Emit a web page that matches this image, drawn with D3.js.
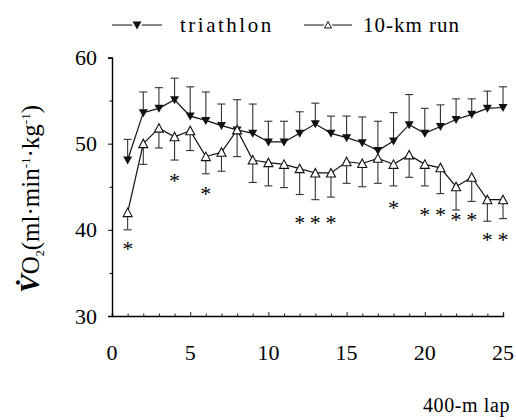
<!DOCTYPE html>
<html>
<head>
<meta charset="utf-8">
<script src="https://cdn.jsdelivr.net/npm/d3@7"></script>
</head>
<body style="margin:0">
<div id="chart"></div>
<script>
// 400-m laps
const laps = [1, 2, 3, 4, 5, 6, 7, 8, 9, 10, 11, 12, 13, 14, 15, 16, 17, 18, 19, 20, 21, 22, 23, 24, 25];

// triathlon: mean and top of SD bar
const triMean  = [48.1, 53.6, 54.1, 55.1, 53.2, 52.7, 52.1, 51.6, 51.2, 50.2, 50.2, 51.2, 52.3, 51.2, 50.7, 50.1, 49.2, 50.3, 52.2, 51.2, 52.0, 52.8, 53.4, 54.1, 54.2];
const triUpper = [50.5, 56.0, 56.5, 57.6, 56.6, 56.0, 54.6, 55.1, 54.6, 52.6, 52.6, 53.7, 54.7, 53.2, 53.2, 53.1, 52.6, 53.6, 55.7, 54.1, 54.5, 55.2, 55.2, 56.1, 56.6];

// 10-km run: mean and bottom of SD bar
const runMean  = [42.0, 50.0, 51.8, 50.8, 51.5, 48.5, 49.0, 51.6, 48.1, 47.8, 47.6, 47.1, 46.6, 46.6, 47.9, 47.7, 48.3, 47.6, 48.7, 47.6, 47.2, 45.0, 46.1, 43.5, 43.5];
const runLower = [40.0, 47.6, 49.5, 48.1, 49.2, 46.5, 46.8, 48.5, 45.5, 45.1, 44.9, 44.1, 43.5, 43.8, 45.4, 45.0, 45.4, 45.1, 46.1, 45.1, 44.2, 42.3, 43.3, 41.0, 41.3];

// significance markers (*)
const sigLaps = [1, 4, 6, 12, 13, 14, 18, 20, 21, 22, 23, 24, 25];
const sigY    = [38.4, 46.3, 44.7, 41.4, 41.4, 41.4, 43.1, 42.3, 42.3, 41.7, 41.7, 39.4, 39.4];

const xTicks = [0, 5, 10, 15, 20, 25];
const yTicks = [30, 40, 50, 60];

const W = 516, H = 420;
const margin = { left: 112, right: 13, top: 57.5, bottom: 104 };
const FONT = 'Liberation Serif';

const svg = d3.select('#chart').append('svg')
    .attr('width', W)
    .attr('height', H);

const x = d3.scaleLinear().domain([0, 25]).range([margin.left, W - margin.right]);
const y = d3.scaleLinear().domain([30, 60]).range([H - margin.bottom, margin.top]);

// axes
const xAxis = svg.append('g')
    .attr('transform', `translate(0,${y(30)})`)
    .call(d3.axisBottom(x).tickValues(d3.range(0, 26)).tickSize(-3).tickFormat(''));
xAxis.selectAll('.tick line').attr('y2', d => d % 5 === 0 ? -4 : -2.5);
xAxis.select('.domain').attr('stroke-width', 1.4);
xAxis.selectAll('line').attr('stroke', '#222');

const yAxis = svg.append('g')
    .attr('transform', `translate(${x(0)},0)`)
    .call(d3.axisLeft(y).tickValues(d3.range(30, 61, 5)).tickSize(4).tickFormat(''));
yAxis.selectAll('.tick line').attr('x2', d => d % 10 === 0 ? -4 : -2.5);
yAxis.select('.domain').attr('stroke-width', 1.4);

// tick labels
svg.selectAll('.xlab')
    .data(xTicks)
    .enter().append('text')
    .attr('font-family', FONT)
    .attr('x', d => x(d))
    .attr('y', 360)
    .attr('text-anchor', 'middle')
    .attr('font-size', 22)
    .text(d => d);

svg.selectAll('.ylab')
    .data(yTicks)
    .enter().append('text')
    .attr('font-family', FONT)
    .attr('x', 97)
    .attr('y', d => y(d) + 7.5)
    .attr('text-anchor', 'end')
    .attr('font-size', 22)
    .text(d => d);

svg.append('text')
    .attr('font-family', FONT)
    .attr('x', 510)
    .attr('y', 412)
    .attr('text-anchor', 'end')
    .attr('font-size', 20)
    .attr('letter-spacing', 0.6)
    .text('400-m lap');

// y label: V̇O2 (ml·min-1·kg-1)
const yl = svg.append('text')
    .attr('font-family', FONT)
    .attr('transform', 'translate(39,293) rotate(-90)')
    .attr('font-size', 25);
yl.append('tspan').attr('font-style', 'italic').attr('font-weight', 'bold').attr('font-size', 28).text('V\u0307');
yl.append('tspan').text('O');
yl.append('tspan').attr('dy', 5).attr('font-size', 12).text('2');
yl.append('tspan').attr('dy', -5).text('(ml\u00b7min');
yl.append('tspan').attr('dy', -9).attr('font-size', 13).text('-1');
yl.append('tspan').attr('dy', 9).text('\u00b7kg');
yl.append('tspan').attr('dy', -9).attr('font-size', 13).text('-1');
yl.append('tspan').attr('dy', 9).text(')');

const tri = laps.map((l, i) => ({ lap: l, v: triMean[i], e: triUpper[i] }));
const run = laps.map((l, i) => ({ lap: l, v: runMean[i], e: runLower[i] }));

const line = d3.line().x(d => x(d.lap)).y(d => y(d.v));

// error bars
function errBars(data) {
    const g = svg.append('g').attr('stroke', '#333').attr('stroke-width', 1.1);
    g.selectAll('.v').data(data).enter().append('line')
        .attr('x1', d => x(d.lap)).attr('x2', d => x(d.lap))
        .attr('y1', d => y(d.v)).attr('y2', d => y(d.e));
    g.selectAll('.c').data(data).enter().append('line')
        .attr('x1', d => x(d.lap) - 4).attr('x2', d => x(d.lap) + 4)
        .attr('y1', d => y(d.e)).attr('y2', d => y(d.e));
}
errBars(tri);
errBars(run);

svg.append('path').datum(tri).attr('d', line)
    .attr('fill', 'none').attr('stroke', '#111').attr('stroke-width', 1.2);
svg.append('path').datum(run).attr('d', line)
    .attr('fill', 'none').attr('stroke', '#111').attr('stroke-width', 1.2);

const down = 'M-4.5,-3.5 L4.5,-3.5 L0,4.5 Z';
const up = 'M-4.5,4 L4.5,4 L0,-4.5 Z';

svg.selectAll('.tri').data(tri).enter().append('path')
    .attr('d', down)
    .attr('transform', d => `translate(${x(d.lap)},${y(d.v)})`)
    .attr('fill', '#111');

svg.selectAll('.run').data(run).enter().append('path')
    .attr('d', up)
    .attr('transform', d => `translate(${x(d.lap)},${y(d.v)})`)
    .attr('fill', '#fff').attr('stroke', '#111').attr('stroke-width', 1.1);

// asterisks
svg.selectAll('.sig').data(sigLaps).enter().append('text')
    .attr('font-family', FONT)
    .attr('x', d => x(d))
    .attr('y', (d, i) => y(sigY[i]) + 12)
    .attr('text-anchor', 'middle')
    .attr('font-size', 22)
    .text('*');

// legend
const lg = svg.append('g');
lg.append('line').attr('x1', 112).attr('x2', 162).attr('y1', 25).attr('y2', 25)
    .attr('stroke', '#111').attr('stroke-width', 1.2);
lg.append('path').attr('d', down).attr('transform', 'translate(137,25)').attr('fill', '#fff').attr('stroke', '#fff').attr('stroke-width', 4);
lg.append('path').attr('d', down).attr('transform', 'translate(137,25)').attr('fill', '#111');
lg.append('text').attr('font-family', FONT).attr('x', 180).attr('y', 32).attr('font-size', 21)
    .attr('letter-spacing', 2.5).text('triathlon');

lg.append('line').attr('x1', 304).attr('x2', 352).attr('y1', 25).attr('y2', 25)
    .attr('stroke', '#111').attr('stroke-width', 1.2);
lg.append('path').attr('d', 'M-3.5,3 L3.5,3 L0,-3.5 Z').attr('transform', 'translate(328,25)')
    .attr('fill', '#fff').attr('stroke', '#fff').attr('stroke-width', 4);
lg.append('path').attr('d', 'M-3.5,3 L3.5,3 L0,-3.5 Z').attr('transform', 'translate(328,25)')
    .attr('fill', '#fff').attr('stroke', '#111').attr('stroke-width', 1);
lg.append('text').attr('font-family', FONT).attr('x', 363).attr('y', 32).attr('font-size', 21)
    .attr('letter-spacing', 1).text('10-km run');
</script>
</body>
</html>
